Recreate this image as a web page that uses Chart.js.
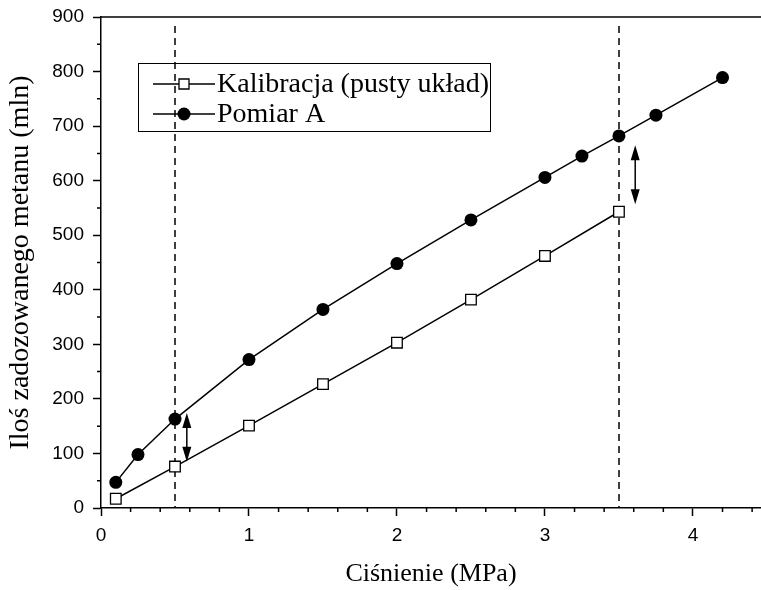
<!DOCTYPE html>
<html lang="pl">
<head>
<meta charset="UTF-8">
<title>Kalibracja</title>
<script src="https://cdn.jsdelivr.net/npm/chart.js@4"></script>
<style>
  html, body { margin: 0; padding: 0; background: #fff; }
</style>
</head>
<body>
<canvas id="myChart" width="761" height="590"></canvas>
<script>
  // pressure (MPa) and dosed methane amounts
  const pressureCal = [0.1, 0.5, 1, 1.5, 2, 2.5, 3, 3.5];
  const kalibracja = [17, 76, 151, 227, 303, 382, 462, 543];

  const pressureA = [0.1, 0.25, 0.5, 1, 1.5, 2, 2.5, 3, 3.25, 3.5, 3.75, 4.2];
  const pomiarA = [47, 98, 163, 272, 364, 448, 528, 606, 645, 682, 720, 789];

  // vertical dashed markers and the double arrows between the curves
  const dashedAt = [0.5, 3.5];
  const arrowX = [0.58, 3.61];
  const arrowFrom = [85, 557];
  const arrowTo = [174, 665];

  function arrowHead(ctx, x, y, dir) {
    ctx.beginPath();
    ctx.moveTo(x, y);
    ctx.lineTo(x - 4.5, y + dir * 15);
    ctx.lineTo(x + 4.5, y + dir * 15);
    ctx.closePath();
    ctx.fill();
  }

  const decor = {
    id: 'decor',
    beforeDatasetsDraw(chart) {
      const ctx = chart.ctx;
      const xs = chart.scales.x;
      const area = chart.chartArea;
      ctx.save();
      ctx.strokeStyle = '#000';
      ctx.lineWidth = 1.5;
      ctx.setLineDash([7, 5]);
      dashedAt.forEach(v => {
        const px = Math.round(xs.getPixelForValue(v));
        ctx.beginPath();
        ctx.moveTo(px, area.top + 9);
        ctx.lineTo(px, area.bottom);
        ctx.stroke();
      });
      ctx.restore();
    },
    afterDraw(chart) {
      const ctx = chart.ctx;
      const xs = chart.scales.x, ys = chart.scales.y;
      const area = chart.chartArea;
      ctx.save();
      ctx.strokeStyle = '#000';
      ctx.fillStyle = '#000';
      ctx.lineWidth = 1.5;

      // top frame line
      ctx.beginPath();
      ctx.moveTo(area.left, area.top);
      ctx.lineTo(chart.width, area.top);
      ctx.stroke();

      // minor ticks
      ctx.beginPath();
      for (let i = 1; i <= 22; i++) {
        if (i % 5 === 0) continue;
        const px = xs.getPixelForValue(i * 0.2);
        ctx.moveTo(px, area.bottom);
        ctx.lineTo(px, area.bottom + 4);
      }
      for (let i = 1; i < 18; i += 2) {
        const py = ys.getPixelForValue(i * 50);
        ctx.moveTo(area.left, py);
        ctx.lineTo(area.left - 4, py);
      }
      ctx.stroke();

      // double arrows
      arrowX.forEach((v, i) => {
        const px = xs.getPixelForValue(v);
        const y1 = ys.getPixelForValue(arrowTo[i]);
        const y2 = ys.getPixelForValue(arrowFrom[i]);
        ctx.beginPath();
        ctx.moveTo(px, y1 + 10);
        ctx.lineTo(px, y2 - 10);
        ctx.stroke();
        arrowHead(ctx, px, y1, 1);
        arrowHead(ctx, px, y2, -1);
      });

      // legend box
      ctx.lineWidth = 1;
      ctx.strokeRect(138.5, 63.5, 352, 68);
      ctx.font = '28px "Liberation Serif"';
      ctx.textBaseline = 'middle';
      ctx.textAlign = 'left';
      chart.data.datasets.forEach((ds, i) => {
        const y = 84 + i * 30;
        ctx.lineWidth = 1.5;
        ctx.beginPath();
        ctx.moveTo(153, y);
        ctx.lineTo(215, y);
        ctx.stroke();
        ctx.beginPath();
        if (ds.pointStyle === 'rect') {
          ctx.fillStyle = '#fff';
          ctx.rect(179, y - 5, 10, 10);
          ctx.fill();
          ctx.lineWidth = 1.3;
          ctx.stroke();
        } else {
          ctx.fillStyle = '#000';
          ctx.arc(184, y, 6.5, 0, Math.PI * 2);
          ctx.fill();
        }
        ctx.fillStyle = '#000';
        ctx.fillText(ds.label, 217, y + 1);
      });
      ctx.restore();
    }
  };

  const ctx = document.getElementById('myChart').getContext('2d');
  const myChart = new Chart(ctx, {
    type: 'scatter',
    data: {
      datasets: [
        {
          label: 'Kalibracja (pusty układ)',
          data: pressureCal.map((x, i) => ({ x: x, y: kalibracja[i] })),
          showLine: true,
          borderColor: '#000',
          borderWidth: 1.5,
          pointStyle: 'rect',
          pointRadius: 7.5,
          pointBackgroundColor: '#fff',
          pointBorderColor: '#000',
          pointBorderWidth: 1.3
        },
        {
          label: 'Pomiar A',
          data: pressureA.map((x, i) => ({ x: x, y: pomiarA[i] })),
          showLine: true,
          borderColor: '#000',
          borderWidth: 1.5,
          pointStyle: 'circle',
          pointRadius: 6.5,
          pointBackgroundColor: '#000',
          pointBorderColor: '#000',
          pointBorderWidth: 0
        }
      ]
    },
    options: {
      responsive: false,
      animation: false,
      layout: { autoPadding: false, padding: { top: 17, right: 0, left: 0, bottom: 0 } },
      plugins: { legend: { display: false }, tooltip: { enabled: false } },
      scales: {
        x: {
          type: 'linear',
          min: 0,
          max: 4.46,
          afterFit(s) {
            s.height = 82;
            s.paddingLeft = 0;
            s.paddingRight = 0;
          },
          ticks: {
            stepSize: 1,
            includeBounds: false,
            maxRotation: 0,
            color: '#000',
            padding: 8,
            font: { family: 'Liberation Sans', size: 19 }
          },
          grid: { drawOnChartArea: false, tickLength: 8, tickColor: '#000', tickWidth: 1.5 },
          border: { color: '#000', width: 1.5 },
          title: {
            display: true,
            text: 'Ciśnienie (MPa)',
            color: '#000',
            font: { family: 'Liberation Serif', size: 26 },
            padding: { top: 0, bottom: 0 }
          }
        },
        y: {
          type: 'linear',
          min: 0,
          max: 900,
          afterFit(s) {
            s.width = 101;
            s.paddingTop = 0;
            s.paddingBottom = 0;
          },
          ticks: {
            stepSize: 100,
            color: '#000',
            padding: 9,
            font: { family: 'Liberation Sans', size: 19 }
          },
          grid: { drawOnChartArea: false, tickLength: 8, tickColor: '#000', tickWidth: 1.5 },
          border: { color: '#000', width: 1.5 },
          title: {
            display: true,
            text: 'Iloś zadozowanego metanu (mln)',
            color: '#000',
            font: { family: 'Liberation Serif', size: 28 },
            padding: { top: 4, bottom: 0 }
          }
        }
      }
    },
    plugins: [decor]
  });
</script>
</body>
</html>
